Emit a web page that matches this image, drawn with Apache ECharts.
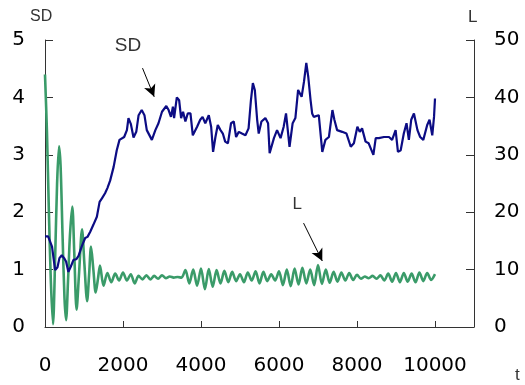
<!DOCTYPE html>
<html>
<head>
<meta charset="utf-8">
<script src="https://cdn.jsdelivr.net/npm/echarts@6/dist/echarts.min.js"></script>
<style>
  html, body { margin: 0; padding: 0; background: #fff; }
  #chart { width: 525px; height: 385px; }
</style>
</head>
<body>
<div id="chart"></div>
<script>
// x axis ticks (time t)
const X_MAX = 11000
const X_STEP = 2000

// SD series, [t, SD]
const sdPoints = [
  [0,1.58],[80,1.58],[180,1.40],[260,0.99],[320,1.04],[370,1.20],[430,1.25],[490,1.20],[540,1.14],[600,0.96],
  [660,1.05],[730,1.17],[800,1.18],[860,1.24],[940,1.40],[1030,1.55],[1090,1.57],[1160,1.66],[1240,1.78],[1330,1.92],
  [1400,2.18],[1460,2.24],[1540,2.33],[1600,2.42],[1670,2.55],[1760,2.79],[1840,3.08],[1910,3.26],[2030,3.31],[2100,3.43],
  [2140,3.64],[2200,3.54],[2270,3.30],[2340,3.40],[2400,3.69],[2480,3.78],[2550,3.69],[2610,3.43],[2740,3.26],[2830,3.43],
  [2910,3.55],[3000,3.75],[3110,3.85],[3170,3.78],[3230,3.66],[3280,3.84],[3310,3.64],[3380,4.00],[3440,3.95],[3490,3.64],
  [3540,3.75],[3600,3.58],[3660,3.72],[3730,3.72],[3790,3.34],[3900,3.49],[3980,3.61],[4040,3.66],[4110,3.55],[4200,3.69],
  [4260,3.49],[4310,3.05],[4370,3.31],[4430,3.52],[4500,3.43],[4560,3.37],[4620,3.23],[4690,3.20],[4770,3.55],[4840,3.58],
  [4900,3.31],[4970,3.40],[5050,3.37],[5140,3.34],[5220,3.46],[5280,3.95],[5330,4.25],[5380,4.13],[5440,3.61],[5480,3.37],
  [5550,3.58],[5650,3.64],[5720,3.55],[5760,3.03],[5800,3.00],[5870,3.29],[5950,3.43],[6040,3.29],[6120,3.49],[6180,3.72],
  [6230,3.40],[6270,3.14],[6350,3.55],[6420,3.64],[6490,4.13],[6580,4.01],[6640,4.27],[6700,4.60],[6750,4.36],[6810,3.95],
  [6850,3.72],[6890,3.66],[7020,3.69],[7110,3.05],[7190,3.26],[7280,3.31],[7370,3.78],[7420,3.61],[7490,3.43],[7620,3.40],
  [7730,3.37],[7840,3.14],[7920,3.20],[8010,3.49],[8070,3.40],[8130,3.46],[8220,3.23],[8300,3.20],[8420,3.00],[8480,3.29],
  [8560,3.29],[8690,3.31],[8820,3.31],[8900,3.26],[8990,3.43],[9050,3.05],[9120,3.08],[9200,3.37],[9270,3.55],[9330,3.26],
  [9390,3.61],[9460,3.72],[9550,3.43],[9620,3.31],[9700,3.26],[9800,3.52],[9860,3.61],[9930,3.34],[9975,3.66],[10000,3.98]
]

// L series, [t, L]
const lPoints = [
  [0,44],[50,34],[100,20],[150,8],[205,0.5],[260,12],[310,25],[360,31.5],[400,28],[450,16],
  [500,5],[540,1.2],[590,8],[640,16],[700,21],[750,13],[810,3],[870,9],[950,17],[1010,11],
  [1080,4.5],[1130,9],[1180,14],[1240,10],[1300,6],[1360,8.5],[1410,10.7],[1500,7.2],[1600,9.4],[1700,7.8],
  [1800,9.3],[1900,8.1],[2000,9.5],[2100,8.1],[2200,9.2],[2300,7.6],[2400,8.9],[2500,8.3],[2600,9.0],[2700,8.3],
  [2800,8.9],[2900,8.4],[3000,9.0],[3100,8.5],[3200,8.8],[3300,8.6],[3400,8.7],[3500,8.6],[3600,9.9],[3700,7.6],
  [3800,10.0],[3900,7.2],[4000,10.2],[4100,6.6],[4200,10.1],[4300,7.0],[4400,9.9],[4500,7.6],[4600,9.8],[4700,7.8],
  [4800,9.6],[4900,8.0],[5000,9.2],[5100,7.8],[5200,9.5],[5300,8.1],[5400,9.7],[5500,7.6],[5600,9.6],[5700,8.0],
  [5800,9.2],[5900,8.1],[6000,9.7],[6100,7.3],[6200,10.0],[6300,7.1],[6400,10.2],[6500,7.4],[6600,10.3],[6700,7.6],
  [6800,10.0],[6900,7.3],[7000,10.8],[7100,7.5],[7200,10.0],[7300,7.7],[7400,9.6],[7500,7.9],[7600,9.5],[7700,8.1],
  [7800,9.4],[7900,8.2],[8000,9.1],[8100,8.4],[8200,8.8],[8300,8.5],[8400,8.9],[8500,8.4],[8600,9.0],[8700,8.1],
  [8800,9.3],[8900,7.9],[9000,9.4],[9100,7.8],[9200,9.4],[9300,7.9],[9400,9.3],[9500,7.8],[9600,9.5],[9700,8.0],
  [9800,9.4],[9900,8.2],[10000,9.2]
]

// annotation anchors in data units
const sdArrow = [[2500, 4.51], [2800, 4.01]]
const sdNote = [2130, 4.9]
const lArrow = [[6630, 18.1], [7110, 11.5]]
const lNote = [6470, 21.4]

const AXIS_COLOR = '#333'
const FONT = 'DejaVu Sans, sans-serif'
const NOTE_FONT = 'Liberation Sans, Arial, sans-serif'

const chart = echarts.init(document.getElementById('chart'), null, { renderer: 'canvas' })

const yAxisBase = {
  type: 'value',
  axisLine: { show: true, lineStyle: { color: AXIS_COLOR, width: 1 } },
  axisTick: { show: true, inside: true, length: 8, lineStyle: { color: AXIS_COLOR } },
  axisLabel: { color: '#000', fontFamily: FONT, fontSize: 20, margin: 20 },
  splitLine: { show: false },
}

const arrowMark = (pts) => ({
  silent: true,
  symbol: ['none', 'arrow'],
  symbolSize: [9, 12],
  lineStyle: { color: '#000', width: 1, type: 'solid' },
  label: { show: false },
  data: [[{ coord: pts[0] }, { coord: pts[1] }]],
})

const noteMark = (pt, text, size) => ({
  silent: true,
  symbol: 'circle',
  symbolSize: 1,
  itemStyle: { color: 'transparent' },
  label: { show: true, position: 'inside', formatter: text, color: '#333', fontFamily: NOTE_FONT, fontSize: size },
  data: [{ coord: pt }],
})

chart.setOption({
  animation: false,
  backgroundColor: '#fff',
  grid: { left: 45, right: 51, top: 40, bottom: 58, containLabel: false },
  xAxis: {
    type: 'value',
    min: 0, max: X_MAX, interval: X_STEP,
    axisLine: { show: true, onZero: false, lineStyle: { color: AXIS_COLOR, width: 1 } },
    axisTick: { show: true, inside: true, length: 6, lineStyle: { color: AXIS_COLOR } },
    axisLabel: {
      color: '#000', fontFamily: FONT, fontSize: 20, margin: 29,
      formatter: v => (v > 10000 ? '' : String(v)),
    },
    splitLine: { show: false },
  },
  yAxis: [
    { ...yAxisBase, position: 'left', min: 0, max: 5, interval: 1 },
    { ...yAxisBase, position: 'right', min: 0, max: 50, interval: 10 },
  ],
  graphic: [
    { type: 'text', left: 30, top: 9, style: { text: 'SD', fill: '#333', font: `16px ${NOTE_FONT}` } },
    { type: 'text', left: 468, top: 9, style: { text: 'L', fill: '#333', font: `17px ${NOTE_FONT}` } },
    { type: 'text', left: 515, top: 367, style: { text: 't', fill: '#333', font: `17px ${NOTE_FONT}` } },
  ],
  series: [
    {
      name: 'L', type: 'line', yAxisIndex: 1, data: lPoints,
      showSymbol: false, smooth: 0.3,
      lineStyle: { color: '#3a9b69', width: 2.6 },
      itemStyle: { color: '#3a9b69' },
      markLine: arrowMark(lArrow),
      markPoint: noteMark(lNote, 'L', 17),
    },
    {
      name: 'SD', type: 'line', yAxisIndex: 0, data: sdPoints,
      showSymbol: false, smooth: false,
      lineStyle: { color: '#0c0c84', width: 2.2 },
      itemStyle: { color: '#0c0c84' },
      markLine: arrowMark(sdArrow),
      markPoint: noteMark(sdNote, 'SD', 19),
    },
  ],
})
</script>
</body>
</html>
